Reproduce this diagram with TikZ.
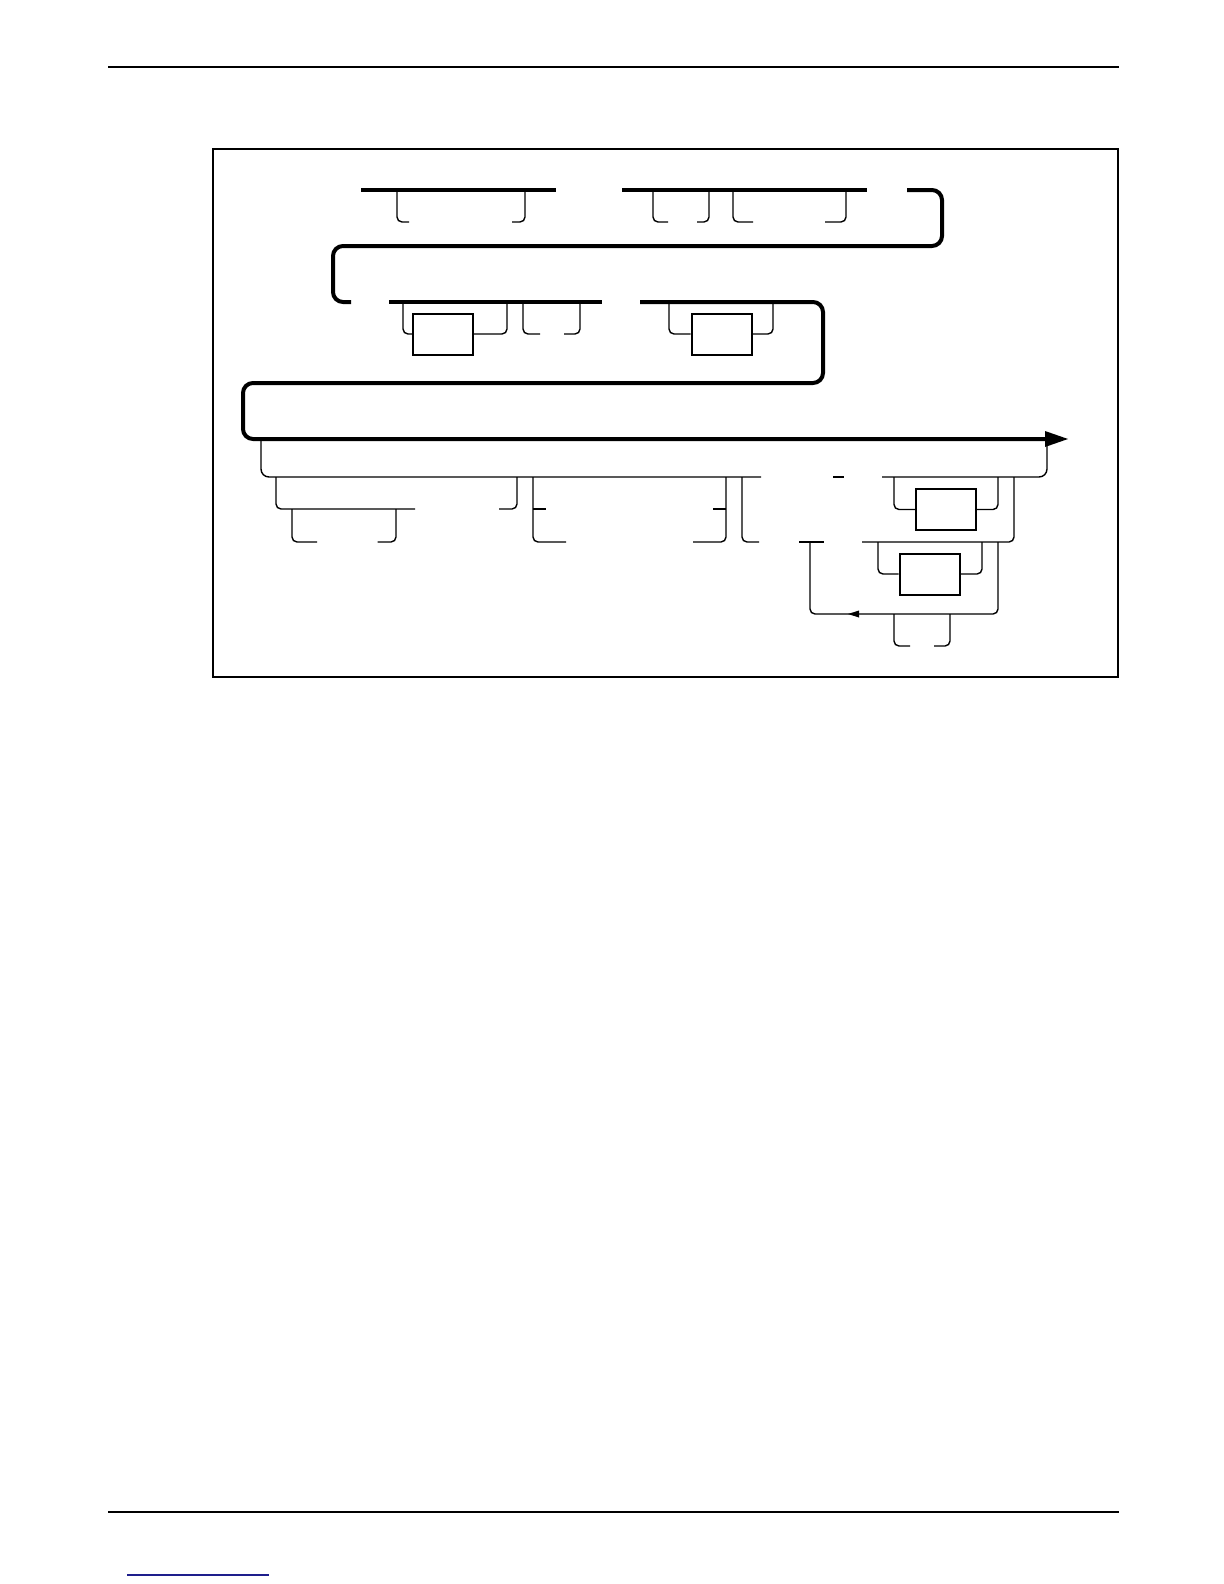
\documentclass[tikz,border=0pt]{standalone}
\begin{document}
\begin{tikzpicture}[x=0.5pt,y=-0.5pt,
  mainline/.style={line width=2pt,rounded corners=3pt},
  thinline/.style={line width=0.7pt,rounded corners=2.5pt},
  kbox/.style={draw,line width=1pt,rectangle,inner sep=0pt,minimum width=30pt,minimum height=20.5pt},
  rule/.style={line width=0.75pt}]
\useasboundingbox (0,0) rectangle (1224,1584);
% page rules and frame
\coordinate (rtl) at (108,67); \coordinate (rtr) at (1119,67);
\coordinate (rbl) at (108,1512); \coordinate (rbr) at (1119,1512);
\draw[rule] (rtl) -- (rtr);
\draw[rule] (rbl) -- (rbr);
\draw[line width=0.8pt,color={rgb,255:red,30;green,30;blue,140}] (127,1575) -- (269,1575);
\draw[line width=0.65pt] (213,149) rectangle (1118,677);
% boxes
\node[kbox] (b1) at (443,334) {};
\node[kbox] (b2) at (721.5,334) {};
\node[kbox] (b3) at (946,509.5) {};
\node[kbox] (b4) at (929.5,574) {};
% row 1
\draw[mainline] (361,190) -- (556,190);
\draw[thinline] (397,190) |- (409,222);
\draw[thinline] (512,222) -| (525,190);
\draw[mainline] (622,190) -- (867,190);
\draw[thinline] (653,190) |- (668,222);
\draw[thinline] (697,222) -| (709,190);
\draw[thinline] (733,190) |- (753,222);
\draw[thinline] (825,222) -| (846,190);
\draw[mainline,rounded corners=5pt] (907,190) -- (942,190) -- (942,246) -- (333,246) -- (333,302) -- (351,302);
% row 2
\draw[mainline] (389,302) -- (602,302);
\draw[thinline] (403,302) |- (b1.west);
\draw[thinline] (b1.east) -| (507,302);
\draw[thinline] (523,302) |- (540,334);
\draw[thinline] (564,334) -| (580,302);
\draw[mainline,rounded corners=5pt] (640,302) -- (823,302) -- (823,383) -- (243,383) -- (243,439) -- (1046,439);
\fill (1045,431) -- (1068,439) -- (1045,447) -- cycle;
\draw[thinline] (669,302) |- (b2.west);
\draw[thinline] (b2.east) -| (773,302);
% row 3
\draw[thinline,rounded corners=4pt] (261,439) |- (761,477);
\draw[thinline] (833,477) -- (844,477);
\draw[thinline,rounded corners=4pt] (882,477) -| (1047,439);
\draw[thinline] (276,477) |- (415,509);
\draw[thinline] (499,509) -| (517,477);
\draw[thinline] (292,509) |- (317,542);
\draw[thinline] (377.5,542) -| (396,509);
\draw[thinline] (533,477) |- (566,542);
\draw[thinline] (533,509) -- (546,509);
\draw[thinline] (713,509) -- (726,509);
\draw[thinline] (693,542) -| (726,477);
\draw[thinline] (742,477) |- (759,542);
\draw[thinline] (799,542) -- (824,542);
\draw[thinline] (862,542) -| (1014,477);
\draw[thinline] (894,477) |- (b3.west);
\draw[thinline] (b3.east) -| (998,477);
\draw[thinline] (878,542) |- (b4.west);
\draw[thinline] (b4.east) -| (982,542);
\draw[thinline] (998,542) -- (998,614) -- (810,614) -- (810,542);
\fill (848,614) -- (859,610.5) -- (859,617.5) -- cycle;
\draw[thinline] (894,614) |- (910,646);
\draw[thinline] (934,646) -| (950,614);
\end{tikzpicture}
\end{document}
